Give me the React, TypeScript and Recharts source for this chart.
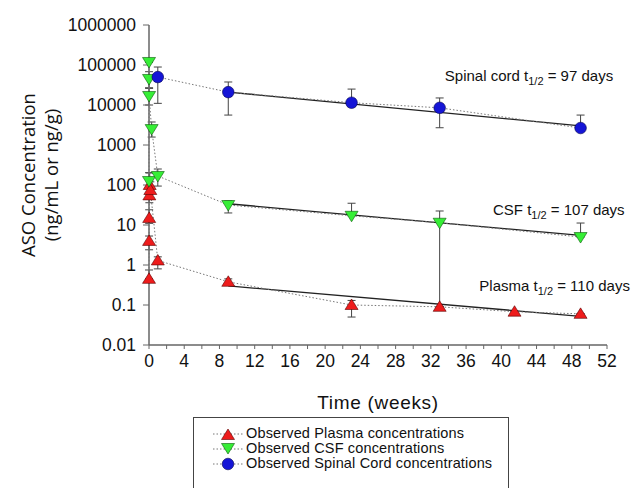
import React from "react";
import {
  ComposedChart,
  Scatter,
  XAxis,
  YAxis,
  ErrorBar,
  ReferenceDot,
} from "recharts";

const X_TICKS = [0, 2, 4, 6, 8, 10, 12, 14, 16, 18, 20, 22, 24, 26, 28, 30, 32, 34, 36, 38, 40, 42, 44, 46, 48, 50, 52];
const Y_TICKS = [0.01, 0.1, 1, 10, 100, 1000, 10000, 100000, 1000000];

// observed means + error bar bounds (weeks, ng/mL or ng/g)
const PLASMA_T = [0.003, 0.01, 0.02, 0.04, 0.08, 0.15, 1, 9, 23, 33, 41.5, 49];
const PLASMA_V = [0.45, 4, 15, 55, 100, 75, 1.3, 0.38, 0.1, 0.09, 0.068, 0.06];
const PLASMA_LO = [0.45, 2.4, 11, 36, 60, 45, 0.8, 0.32, 0.05, 0.09, 0.068, 0.06];
const PLASMA_HI = [0.75, 5.3, 24, 90, 200, 120, 1.6, 0.45, 0.13, 0.09, 0.068, 0.06];

const CSF_T = [0.001, 0.003, 0.006, 0.012, 0.3, 1, 9, 23, 33, 49];
const CSF_V = [126, 119000, 44700, 16800, 2500, 168, 31.6, 17, 11.4, 5];
const CSF_LO = [60, 119000, 27000, 10000, 1580, 94, 20, 17, 0.09, 5];
const CSF_HI = [203, 119000, 68000, 26000, 3760, 251, 40, 35, 22.4, 11.2];

const CORD_T = [1, 9, 23, 33, 49];
const CORD_V = [50000, 21000, 11400, 8500, 2660];
const CORD_LO = [11000, 5600, 9000, 2700, 2660];
const CORD_HI = [89000, 37600, 25000, 15000, 5600];

// terminal half-life fits
const FIT_T = [9, 49];
const PLASMA_FIT = [0.3, 0.052];
const CSF_FIT = [34, 5.5];
const CORD_FIT = [21000, 3000];

const NOTES = [
  { name: "Spinal cord", days: 97, x: 52.7, y: 53000 },
  { name: "CSF", days: 107, x: 54.0, y: 23.5 },
  { name: "Plasma", days: 110, x: 54.6, y: 0.3 },
];

const RED = "#ee1c1c";
const GREEN = "#36ee36";
const BLUE = "#1515d6";
const FONT = "'Liberation Sans', Arial, sans-serif";

const rows = (t: number[], v: number[], lo: number[], hi: number[]) =>
  t.map((x, i) => ({ x, y: v[i], err: [v[i] - lo[i], hi[i] - v[i]] }));

const fitRows = (v: number[]) => FIT_T.map((x, i) => ({ x, y: v[i] }));

function TriUp(props: any) {
  const { cx, cy } = props;
  return (
    <polygon
      points={`${cx},${cy - 6} ${cx - 6.5},${cy + 4.5} ${cx + 6.5},${cy + 4.5}`}
      fill={RED}
      stroke="#5a0000"
      strokeWidth={0.6}
    />
  );
}

function TriDown(props: any) {
  const { cx, cy } = props;
  return (
    <polygon
      points={`${cx - 6.5},${cy - 4.5} ${cx + 6.5},${cy - 4.5} ${cx},${cy + 6}`}
      fill={GREEN}
      stroke="#0a5a0a"
      strokeWidth={0.6}
    />
  );
}

function Circ(props: any) {
  const { cx, cy } = props;
  return <circle cx={cx} cy={cy} r={5.8} fill={BLUE} stroke="#000050" strokeWidth={0.6} />;
}

const Nothing = () => <g />;

const dotted = { stroke: "#777", strokeWidth: 1, strokeDasharray: "1.5 2" };
const solid = { stroke: "#222", strokeWidth: 1.3 };

const noteLabel = (name: string, days: number) => (props: any) => {
  const vb = props.viewBox;
  const x = vb.x + vb.width / 2;
  const y = vb.y + vb.height / 2;
  return (
    <text x={x} y={y + 5} textAnchor="end" fontSize={15} fontFamily={FONT} fill="#111">
      {name} t
      <tspan fontSize={11} dy={4}>1/2</tspan>
      <tspan dy={-4}> = {days} days</tspan>
    </text>
  );
};

const yTitle = (props: any) => {
  const vb = props.viewBox;
  const cy = vb.y + vb.height / 2 - 10;
  return (
    <g fontFamily="'Open Sans', sans-serif" fontSize={18.5} fill="#111">
      <text x={27} y={cy} transform={`rotate(-90, 27, ${cy})`} textAnchor="middle" dominantBaseline="central">
        ASO Concentration
      </text>
      <text x={50} y={cy} transform={`rotate(-90, 50, ${cy})`} textAnchor="middle" dominantBaseline="central">
        (ng/mL or ng/g)
      </text>
    </g>
  );
};

const xTitle = (props: any) => {
  const vb = props.viewBox;
  return (
    <text
      x={vb.x + vb.width / 2}
      y={402}
      textAnchor="middle"
      dominantBaseline="central"
      fontFamily={FONT}
      fontSize={19}
      letterSpacing={0.7}
      fill="#111"
    >
      Time (weeks)
    </text>
  );
};

const LEGEND = [
  { label: "Observed Plasma concentrations", shape: "up", color: RED },
  { label: "Observed CSF concentrations", shape: "down", color: GREEN },
  { label: "Observed Spinal Cord concentrations", shape: "circle", color: BLUE },
];

function LegendIcon({ shape }: { shape: string }) {
  return (
    <svg width={30} height={14}>
      <line x1={0} y1={7} x2={30} y2={7} stroke="#777" strokeWidth={1} strokeDasharray="1.5 2" />
      {shape === "up" && <TriUp cx={15} cy={8} />}
      {shape === "down" && <TriDown cx={15} cy={6} />}
      {shape === "circle" && <Circ cx={15} cy={7} />}
    </svg>
  );
}

export default function App() {
  return (
    <div
      style={{
        position: "absolute",
        left: 0,
        top: 0,
        width: 632,
        height: 488,
        background: "#fff",
        overflow: "hidden",
      }}
    >
      <ComposedChart width={632} height={488} margin={{ top: 25, right: 25, left: 0, bottom: 0 }}>
        <XAxis
          type="number"
          dataKey="x"
          domain={[0, 52]}
          ticks={X_TICKS}
          interval={0}
          tickFormatter={(v) => (v % 4 === 0 ? String(v) : "")}
          tickSize={4}
          tickMargin={6}
          height={143}
          axisLine={{ stroke: "#666", strokeWidth: 1.5 }}
          tickLine={{ stroke: "#666" }}
          tick={{ fill: "#111", fontSize: 17.5, fontFamily: FONT }}
          label={{ content: xTitle }}
        />
        <YAxis
          type="number"
          dataKey="y"
          scale="log"
          domain={[0.01, 1000000]}
          allowDataOverflow
          ticks={Y_TICKS}
          interval={0}
          tickFormatter={(v) => String(v)}
          width={149}
          tickSize={6}
          tickMargin={7}
          axisLine={{ stroke: "#666", strokeWidth: 1.5 }}
          tickLine={{ stroke: "#666" }}
          tick={{ fill: "#111", fontSize: 17.5, fontFamily: FONT }}
          label={{ content: yTitle }}
        />
        <Scatter data={fitRows(PLASMA_FIT)} shape={Nothing} line={solid} isAnimationActive={false} />
        <Scatter data={fitRows(CSF_FIT)} shape={Nothing} line={solid} isAnimationActive={false} />
        <Scatter data={fitRows(CORD_FIT)} shape={Nothing} line={solid} isAnimationActive={false} />
        <Scatter
          name="Plasma"
          data={rows(PLASMA_T, PLASMA_V, PLASMA_LO, PLASMA_HI)}
          shape={TriUp}
          line={dotted}
          isAnimationActive={false}
        >
          <ErrorBar dataKey="err" direction="y" width={4} stroke="#444" strokeWidth={1} />
        </Scatter>
        <Scatter
          name="CSF"
          data={rows(CSF_T, CSF_V, CSF_LO, CSF_HI)}
          shape={TriDown}
          line={dotted}
          isAnimationActive={false}
        >
          <ErrorBar dataKey="err" direction="y" width={4} stroke="#444" strokeWidth={1} />
        </Scatter>
        <Scatter
          name="Spinal Cord"
          data={rows(CORD_T, CORD_V, CORD_LO, CORD_HI)}
          shape={Circ}
          line={dotted}
          isAnimationActive={false}
        >
          <ErrorBar dataKey="err" direction="y" width={4} stroke="#444" strokeWidth={1} />
        </Scatter>
        {NOTES.map((n) => (
          <ReferenceDot
            key={n.name}
            x={n.x}
            y={n.y}
            r={1}
            fill="none"
            stroke="none"
            ifOverflow="visible"
            label={{ content: noteLabel(n.name, n.days) }}
          />
        ))}
      </ComposedChart>
      <div
        style={{
          position: "absolute",
          left: 193,
          top: 417,
          width: 316,
          height: 90,
          border: "1px solid #444",
          boxSizing: "border-box",
          paddingTop: 8,
          paddingLeft: 19,
          fontFamily: FONT,
          fontSize: 14.5,
          lineHeight: "15px",
          color: "#111",
        }}
      >
        {LEGEND.map((l) => (
          <div key={l.label} style={{ display: "flex", alignItems: "center", height: 15, whiteSpace: "nowrap" }}>
            <LegendIcon shape={l.shape} />
            <span style={{ marginLeft: 3, letterSpacing: 0.15 }}>{l.label}</span>
          </div>
        ))}
      </div>
    </div>
  );
}
